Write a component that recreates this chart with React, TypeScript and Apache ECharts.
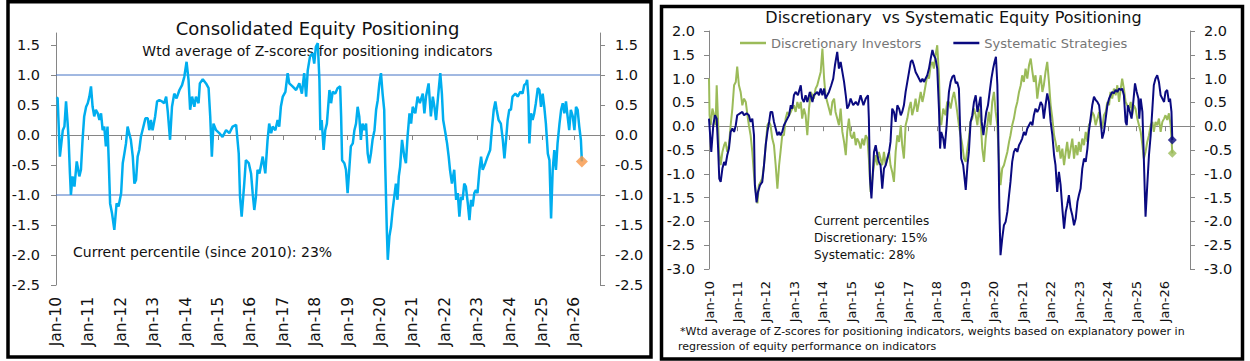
import React, { useEffect, useRef } from "react";
import * as echarts from "echarts";

const BASE_YEAR = 2010;
const FONT = "'DejaVu Sans', sans-serif";

const yearTicks = [2010, 2011, 2012, 2013, 2014, 2015, 2016, 2017, 2018, 2019, 2020, 2021, 2022, 2023, 2024, 2025, 2026];
const leftYTicks = [-2.5, -2, -1.5, -1, -0.5, 0, 0.5, 1, 1.5];
const rightYTicks = [-3, -2.5, -2, -1.5, -1, -0.5, 0, 0.5, 1, 1.5, 2];
const bandLevels = [1, -1];

const leftTitle = "Consolidated Equity Positioning";
const leftSubtitle = "Wtd average of Z-scores for positioning indicators";
const leftNote = "Current percentile (since 2010): 23%";
const rightTitle = "Discretionary  vs Systematic Equity Positioning";
const rightNotes = ["Current percentiles", "Discretionary: 15%", "Systematic: 28%"];
const footnotes = [
  "*Wtd average of Z-scores for positioning indicators, weights based on explanatory power in",
  "regression of equity performance on indicators",
];
const seriesNames = ["Discretionary Investors", "Systematic Strategies"];

// [years since Jan 2010, z-score]
const consolidated: [number, number][] = [
  [0.02, 0.63], [0.05, 0.61], [0.12, -0.36], [0.21, 0.08], [0.26, 0.14], [0.31, 0.56], [0.36, 0.19], [0.39, -0.08], [0.43, -0.64], [0.46, -1.0],
  [0.51, -0.69], [0.57, -0.86], [0.64, -0.44], [0.72, -0.69], [0.77, -0.58], [0.82, -0.08], [0.87, 0.31], [0.93, 0.47], [0.98, 0.53], [1.03, 0.64],
  [1.08, 0.81], [1.13, 0.47], [1.18, 0.31], [1.23, 0.42], [1.29, 0.36], [1.34, 0.25], [1.39, 0.36], [1.44, 0.08], [1.49, 0.14], [1.54, -0.19],
  [1.59, 0.14], [1.63, -0.47], [1.67, -1.14], [1.73, -1.31], [1.8, -1.58], [1.87, -1.14], [1.93, -1.19], [2.01, -0.97], [2.06, -0.47], [2.11, -0.31],
  [2.16, -0.14], [2.21, 0.14], [2.26, 0.03], [2.31, -0.08], [2.37, -0.36], [2.42, -0.81], [2.47, -0.75], [2.52, -0.36], [2.57, -0.25], [2.62, -0.03],
  [2.67, 0.08], [2.76, 0.28], [2.83, 0.28], [2.88, 0.08], [2.93, 0.25], [2.98, 0.08], [3.06, 0.31], [3.12, 0.56], [3.19, 0.58], [3.27, 0.56],
  [3.34, 0.53], [3.4, 0.64], [3.45, 0.39], [3.52, -0.08], [3.58, 0.47], [3.65, 0.69], [3.72, 0.61], [3.81, 0.75], [3.89, 0.83], [3.96, 0.97],
  [4.03, 1.22], [4.09, 0.92], [4.14, 0.42], [4.2, 0.64], [4.27, 0.47], [4.32, 0.64], [4.4, 0.53], [4.44, 0.86], [4.53, 0.93], [4.63, 0.86],
  [4.71, 0.78], [4.76, 0.31], [4.81, -0.36], [4.86, 0.19], [4.94, 0.08], [5.04, 0.03], [5.14, -0.03], [5.25, 0.08], [5.35, 0.03], [5.45, 0.14],
  [5.56, 0.17], [5.64, -0.31], [5.68, -1.03], [5.73, -1.36], [5.81, -0.81], [5.86, -0.42], [5.95, -0.47], [6.02, -0.64], [6.07, -0.97], [6.12, -1.25],
  [6.17, -1.03], [6.22, -0.58], [6.28, -0.64], [6.38, -0.36], [6.46, -0.64], [6.53, -0.08], [6.58, 0.19], [6.64, 0.03], [6.69, 0.14], [6.77, 0.08],
  [6.84, 0.25], [6.89, 0.14], [6.94, 0.47], [7.0, 0.64], [7.08, 0.72], [7.15, 1.03], [7.2, 0.86], [7.3, 0.81], [7.41, 0.75], [7.51, 0.86],
  [7.59, 0.69], [7.66, 1.03], [7.72, 0.64], [7.77, 1.08], [7.84, 1.31], [7.92, 1.36], [7.97, 1.19], [8.02, 1.47], [8.08, 1.53], [8.13, 0.92],
  [8.16, 0.08], [8.2, 0.25], [8.26, -0.25], [8.31, 0.08], [8.36, 0.19], [8.44, 0.75], [8.49, 0.53], [8.54, 0.72], [8.62, 0.69], [8.69, 0.78],
  [8.77, 0.81], [8.8, 0.31], [8.83, -0.42], [8.9, -0.47], [8.95, -0.58], [9.0, -0.97], [9.05, -0.58], [9.1, -0.19], [9.16, -0.14], [9.21, 0.08],
  [9.26, 0.19], [9.31, 0.47], [9.36, 0.31], [9.41, -0.08], [9.46, 0.19], [9.52, 0.08], [9.57, 0.19], [9.62, -0.31], [9.67, -0.47], [9.72, -0.31],
  [9.77, -0.08], [9.83, 0.08], [9.88, 0.42], [9.93, 0.58], [9.98, 0.86], [10.03, 1.03], [10.08, 0.69], [10.13, 0.42], [10.16, -0.47], [10.21, -1.58],
  [10.24, -2.08], [10.29, -1.69], [10.34, -1.53], [10.39, -1.25], [10.44, -1.03], [10.49, -0.81], [10.54, -1.08], [10.58, -0.69], [10.62, -0.53], [10.68, -0.08],
  [10.75, -0.36], [10.8, -0.47], [10.85, -0.03], [10.91, 0.36], [10.96, 0.19], [11.01, 0.47], [11.09, 0.36], [11.16, 0.64], [11.23, 0.53], [11.32, 0.69],
  [11.37, 0.36], [11.42, 0.64], [11.5, 0.86], [11.57, 0.31], [11.63, 0.64], [11.68, 0.47], [11.73, 0.25], [11.81, 0.75], [11.86, 1.03], [11.91, 0.69],
  [11.95, 0.25], [12.02, 0.03], [12.07, -0.14], [12.12, -0.36], [12.16, -0.58], [12.22, -0.81], [12.29, -0.58], [12.35, -1.08], [12.4, -0.97], [12.45, -1.36],
  [12.5, -1.03], [12.55, -1.08], [12.6, -0.81], [12.65, -0.86], [12.71, -1.14], [12.76, -1.42], [12.81, -1.08], [12.86, -1.19], [12.91, -0.97], [12.96, -0.92],
  [13.01, -0.97], [13.07, -0.58], [13.12, -0.36], [13.17, -0.58], [13.25, -0.47], [13.32, -0.36], [13.4, -0.25], [13.45, 0.08], [13.51, 0.42], [13.56, 0.56],
  [13.6, 0.42], [13.66, 0.25], [13.73, 0.19], [13.79, -0.08], [13.84, -0.39], [13.89, -0.08], [13.94, 0.25], [13.99, 0.42], [14.04, 0.42], [14.09, 0.64],
  [14.18, 0.69], [14.25, 0.64], [14.33, 0.72], [14.4, 0.69], [14.45, 0.83], [14.51, 0.86], [14.54, 0.92], [14.58, 0.64], [14.61, -0.14], [14.66, 0.36],
  [14.71, 0.25], [14.76, 0.36], [14.81, 0.53], [14.87, 0.78], [14.92, 0.75], [14.97, 0.47], [15.02, 0.69], [15.07, 0.47], [15.12, 0.19], [15.18, -0.31],
  [15.23, -0.42], [15.28, -1.39], [15.33, -0.58], [15.38, -0.25], [15.43, -0.58], [15.48, -0.14], [15.54, 0.19], [15.59, 0.42], [15.64, 0.53], [15.69, 0.36],
  [15.74, 0.56], [15.79, 0.31], [15.84, 0.08], [15.89, 0.42], [15.95, 0.31], [16.0, 0.08], [16.05, 0.47], [16.1, 0.42], [16.15, 0.14], [16.2, -0.08],
  [16.23, -0.44],
];

const systematic: [number, number][] = [
  [0.0, 0.16], [0.04, -0.19], [0.08, -0.54], [0.15, 0.02], [0.21, 0.23], [0.27, 0.16], [0.32, -0.47], [0.36, -1.1], [0.41, -1.17], [0.47, -0.89],
  [0.53, -0.75], [0.58, -0.82], [0.64, -0.61], [0.7, -0.47], [0.76, -0.12], [0.82, -0.05], [0.88, -0.12], [0.94, 0.02], [0.99, 0.23], [1.09, 0.27],
  [1.17, 0.3], [1.23, 0.23], [1.32, 0.27], [1.4, 0.23], [1.46, 0.09], [1.52, 0.16], [1.58, -0.19], [1.61, -1.24], [1.67, -1.6], [1.72, -1.38],
  [1.79, -1.24], [1.87, -1.17], [1.93, -0.82], [1.99, -0.4], [2.05, -0.12], [2.11, 0.09], [2.16, 0.3], [2.22, 0.3], [2.28, 0.09], [2.34, -0.05],
  [2.4, -0.19], [2.46, -0.12], [2.51, -0.19], [2.57, -0.12], [2.63, 0.02], [2.69, 0.09], [2.75, 0.16], [2.81, 0.23], [2.87, 0.44], [2.92, 0.37],
  [2.98, 0.65], [3.04, 0.72], [3.12, 0.65], [3.22, 0.86], [3.27, 0.58], [3.33, 0.51], [3.39, 0.65], [3.45, 0.51], [3.54, 0.72], [3.63, 0.51],
  [3.68, 0.65], [3.8, 0.72], [3.86, 0.65], [3.92, 0.79], [3.98, 0.65], [4.04, 0.79], [4.09, 0.58], [4.15, 0.65], [4.21, 0.72], [4.29, 0.86],
  [4.36, 1.0], [4.42, 1.28], [4.5, 1.56], [4.56, 1.21], [4.62, 1.35], [4.68, 1.14], [4.74, 0.93], [4.8, 0.65], [4.85, 0.37], [4.91, 0.44],
  [4.97, 0.58], [5.06, 0.44], [5.15, 0.51], [5.23, 0.44], [5.32, 0.65], [5.42, 0.44], [5.5, 0.58], [5.58, 0.65], [5.61, 0.16], [5.65, -1.1],
  [5.7, -1.52], [5.74, -1.1], [5.79, -0.54], [5.85, -0.4], [5.91, -0.61], [5.96, -0.75], [6.02, -0.82], [6.08, -1.31], [6.14, -0.89], [6.2, -0.82],
  [6.26, -0.68], [6.32, -0.54], [6.37, -0.33], [6.43, 0.37], [6.49, 0.3], [6.55, 0.09], [6.61, 0.44], [6.67, 0.37], [6.73, 0.23], [6.78, 0.3],
  [6.84, 0.44], [6.9, 0.72], [6.96, 0.93], [7.02, 1.14], [7.08, 1.35], [7.13, 1.39], [7.19, 1.28], [7.25, 1.14], [7.31, 1.07], [7.43, 0.93],
  [7.49, 1.0], [7.54, 0.93], [7.66, 1.07], [7.72, 1.21], [7.78, 1.42], [7.84, 1.6], [7.89, 1.49], [7.95, 1.42], [8.01, 1.21], [8.07, 0.37],
  [8.11, -0.47], [8.15, -0.12], [8.22, -0.26], [8.27, -0.47], [8.34, 0.02], [8.38, 0.4], [8.42, 0.72], [8.48, 0.93], [8.54, 1.04], [8.6, 1.07],
  [8.66, 0.9], [8.71, 0.93], [8.77, 0.79], [8.81, 0.02], [8.85, -0.68], [8.92, -0.82], [8.97, -1.1], [9.01, -1.34], [9.07, -0.82], [9.12, -0.54],
  [9.18, 0.09], [9.24, 0.23], [9.3, 0.51], [9.36, 0.65], [9.42, 0.3], [9.47, 0.44], [9.53, 0.62], [9.57, 0.09], [9.63, -0.19], [9.67, 0.02],
  [9.73, 0.3], [9.79, 0.44], [9.85, 0.72], [9.91, 1.0], [9.97, 1.21], [10.02, 1.35], [10.07, 1.46], [10.12, 0.86], [10.15, -0.12], [10.19, -1.73],
  [10.23, -2.71], [10.29, -2.36], [10.35, -2.08], [10.41, -2.01], [10.47, -1.8], [10.53, -1.45], [10.58, -1.17], [10.64, -0.75], [10.7, -0.54], [10.76, -0.47],
  [10.82, -0.54], [10.88, -0.4], [10.94, -0.33], [10.99, -0.26], [11.05, -0.12], [11.11, -0.19], [11.17, -0.05], [11.23, 0.02], [11.29, 0.09], [11.35, 0.02],
  [11.4, 0.23], [11.46, 0.37], [11.52, 0.3], [11.58, 0.37], [11.64, 0.51], [11.7, 0.44], [11.75, 0.16], [11.81, 0.44], [11.87, 0.69], [11.93, 0.51],
  [11.99, 0.09], [12.05, -0.19], [12.11, -0.61], [12.16, -0.82], [12.22, -1.38], [12.28, -0.96], [12.34, -1.24], [12.4, -1.73], [12.46, -2.15], [12.52, -1.8],
  [12.57, -1.66], [12.63, -1.45], [12.69, -1.73], [12.75, -1.87], [12.81, -2.08], [12.87, -1.94], [12.93, -1.59], [12.98, -1.45], [13.04, -1.31], [13.1, -0.89],
  [13.16, -0.68], [13.22, -0.75], [13.28, -0.47], [13.33, -0.12], [13.39, 0.16], [13.45, 0.44], [13.51, 0.62], [13.57, 0.55], [13.63, 0.51], [13.69, 0.44],
  [13.74, 0.16], [13.8, -0.26], [13.86, -0.12], [13.92, 0.16], [13.98, 0.44], [14.04, 0.58], [14.09, 0.65], [14.15, 0.72], [14.21, 0.69], [14.27, 0.76],
  [14.33, 0.72], [14.39, 0.79], [14.45, 0.76], [14.5, 0.79], [14.56, 0.65], [14.62, 0.09], [14.66, 0.02], [14.7, 0.44], [14.77, 0.3], [14.83, 0.16],
  [14.89, 0.51], [14.95, 0.9], [15.01, 0.72], [15.07, 0.58], [15.1, 0.16], [15.15, 0.58], [15.21, 0.3], [15.26, -0.68], [15.3, -1.52], [15.32, -1.9],
  [15.38, -1.24], [15.44, -0.61], [15.5, -0.19], [15.56, 0.37], [15.61, 0.86], [15.67, 1.0], [15.73, 1.07], [15.79, 0.93], [15.85, 0.65], [15.91, 0.58],
  [15.97, 0.51], [16.02, 0.72], [16.08, 0.76], [16.14, 0.51], [16.18, 0.58], [16.23, 0.3], [16.26, -0.29],
];

const discretionary: [number, number][] = [
  [0.0, 1.0], [0.02, 0.23], [0.06, 0.02], [0.12, 0.37], [0.18, 0.23], [0.23, 0.02], [0.27, 0.86], [0.32, 0.09], [0.35, -0.54], [0.41, -0.82],
  [0.47, -0.54], [0.53, -0.4], [0.58, -0.33], [0.64, -0.54], [0.7, -0.4], [0.76, 0.02], [0.82, 0.37], [0.88, 0.86], [0.94, 0.93], [0.99, 1.25],
  [1.05, 0.86], [1.11, 0.72], [1.17, 0.44], [1.23, 0.58], [1.29, 0.51], [1.35, 0.23], [1.4, 0.02], [1.46, -0.19], [1.52, -0.54], [1.58, -1.03],
  [1.64, -1.38], [1.7, -1.62], [1.75, -1.24], [1.81, -1.17], [1.87, -1.1], [1.93, -0.82], [1.99, -0.4], [2.05, 0.02], [2.11, 0.09], [2.16, 0.02],
  [2.22, -0.26], [2.28, -0.4], [2.34, -0.82], [2.4, -1.31], [2.46, -0.82], [2.51, -0.54], [2.57, -0.19], [2.63, -0.19], [2.69, 0.16], [2.75, 0.3],
  [2.81, 0.23], [2.87, 0.3], [2.92, 0.37], [2.98, 0.44], [3.04, 0.3], [3.1, 0.51], [3.16, 0.37], [3.22, 0.51], [3.27, 0.16], [3.33, 0.37],
  [3.39, 0.23], [3.45, -0.19], [3.51, 0.37], [3.57, 0.72], [3.63, 0.65], [3.68, 0.58], [3.74, 0.79], [3.8, 0.86], [3.86, 1.0], [3.92, 1.14],
  [3.98, 1.63], [4.04, 1.0], [4.09, 0.65], [4.15, 0.51], [4.21, 0.37], [4.27, 0.23], [4.33, 0.51], [4.39, 0.58], [4.44, 0.3], [4.5, 0.16],
  [4.56, 0.02], [4.62, 0.37], [4.68, -0.12], [4.74, -0.33], [4.8, -0.61], [4.85, -0.12], [4.91, 0.16], [4.97, -0.19], [5.03, -0.26], [5.09, -0.12],
  [5.15, -0.4], [5.2, -0.26], [5.26, -0.33], [5.32, -0.47], [5.38, -0.26], [5.44, -0.4], [5.5, -0.19], [5.56, -0.26], [5.61, -0.68], [5.67, -1.38],
  [5.73, -1.1], [5.79, -0.82], [5.85, -0.61], [5.91, -0.82], [5.96, -0.54], [6.02, -0.68], [6.08, -0.82], [6.14, -0.54], [6.2, -0.82], [6.26, -0.68],
  [6.32, -0.54], [6.37, -0.82], [6.43, -0.96], [6.49, -1.17], [6.55, -0.54], [6.61, -0.19], [6.67, -0.33], [6.73, 0.02], [6.78, -0.4], [6.84, -0.68],
  [6.9, 0.02], [6.96, 0.16], [7.02, 0.37], [7.08, 0.51], [7.13, 0.23], [7.19, 0.37], [7.25, 0.58], [7.31, 0.3], [7.37, 0.51], [7.43, 0.72],
  [7.49, 0.51], [7.54, 0.65], [7.6, 0.86], [7.66, 1.07], [7.72, 1.0], [7.78, 1.28], [7.84, 1.35], [7.89, 1.21], [7.95, 1.49], [8.01, 1.7],
  [8.07, 1.07], [8.11, 0.16], [8.15, 0.02], [8.22, 0.37], [8.3, 0.23], [8.36, 0.51], [8.42, 0.51], [8.48, 0.37], [8.54, 0.58], [8.6, 0.72],
  [8.66, 0.51], [8.71, 0.3], [8.77, 0.02], [8.83, -0.19], [8.89, -0.4], [8.95, -0.68], [9.01, -0.75], [9.07, -0.47], [9.12, -0.26], [9.18, 0.09],
  [9.24, 0.16], [9.3, 0.37], [9.36, 0.23], [9.42, 0.02], [9.47, 0.37], [9.53, 0.16], [9.59, -0.47], [9.65, -0.75], [9.71, -0.26], [9.77, 0.02],
  [9.82, 0.3], [9.88, 0.02], [9.94, 0.51], [10.0, 0.72], [10.06, 0.3], [10.12, 0.02], [10.18, -0.82], [10.23, -1.24], [10.29, -0.89], [10.35, -0.82],
  [10.41, -0.68], [10.47, -0.54], [10.53, -0.33], [10.58, -0.19], [10.64, 0.02], [10.7, 0.16], [10.76, 0.37], [10.82, 0.51], [10.88, 0.72], [10.94, 0.86],
  [10.99, 1.07], [11.05, 0.93], [11.11, 1.21], [11.17, 1.0], [11.23, 1.28], [11.29, 1.42], [11.35, 1.14], [11.4, 0.93], [11.46, 1.07], [11.52, 0.58],
  [11.58, 0.86], [11.64, 1.07], [11.7, 0.72], [11.75, 0.86], [11.81, 1.14], [11.87, 1.35], [11.93, 0.93], [11.99, 0.44], [12.05, 0.16], [12.11, -0.19],
  [12.16, -0.33], [12.22, -0.54], [12.28, -0.4], [12.34, -0.68], [12.4, -0.47], [12.46, -0.82], [12.52, -0.54], [12.57, -0.33], [12.63, -0.68], [12.69, -0.47],
  [12.75, -0.26], [12.81, -0.68], [12.87, -0.4], [12.93, -0.61], [12.98, -0.33], [13.04, -0.54], [13.1, -0.26], [13.16, -0.4], [13.22, -0.12], [13.28, -0.33],
  [13.33, 0.02], [13.39, 0.09], [13.45, 0.3], [13.51, 0.23], [13.57, 0.02], [13.63, 0.16], [13.69, 0.3], [13.74, 0.02], [13.8, -0.05], [13.86, 0.23],
  [13.92, 0.3], [13.98, 0.51], [14.04, 0.44], [14.09, 0.72], [14.15, 0.58], [14.21, 0.79], [14.27, 0.65], [14.33, 0.86], [14.39, 0.51], [14.45, 0.79],
  [14.5, 1.0], [14.56, 0.79], [14.62, 0.51], [14.68, 0.44], [14.74, 0.37], [14.8, 0.51], [14.85, 0.23], [14.91, 0.44], [14.97, 0.37], [15.03, 0.16],
  [15.09, 0.02], [15.15, -0.12], [15.21, -0.4], [15.26, -0.68], [15.32, -0.54], [15.38, -0.33], [15.44, -0.19], [15.5, 0.02], [15.56, 0.09], [15.61, -0.12],
  [15.67, 0.09], [15.73, 0.02], [15.79, 0.16], [15.85, -0.12], [15.91, 0.09], [15.97, 0.16], [16.02, 0.23], [16.08, 0.13], [16.14, 0.27], [16.2, 0.02],
  [16.23, -0.26], [16.26, -0.57],
];

const toPoints = (arr: [number, number][]) => arr.map(([t, v]) => [BASE_YEAR + t, v]);
const lastPoint = (arr: [number, number][]) => toPoints(arr).slice(-1);
const yearLabel = (v: number) => "Jan-" + String(Math.round(v) % 100).padStart(2, "0");

const AXIS_GRAY = "#868686";
const BAND_BLUE = "#4472C4";
const GREEN = "#9BBB59";
const NAVY = "#0A0A80";
const LEFT_MIN_X = 2010;
const LEFT_MAX_X = 2026.79;
const RIGHT_MAX_X = 2026.88;

function labelXAxis(gridIndex: number, max: number, fontSize: number, margin: number) {
  return {
    type: "value", gridIndex, min: 2010, max, interval: 1, position: "bottom",
    axisLine: { show: false, onZero: false }, axisTick: { show: false }, splitLine: { show: false },
    axisLabel: { rotate: 90, margin, fontSize, fontFamily: FONT, color: "#111", formatter: yearLabel, customValues: yearTicks },
  };
}
function zeroXAxis(gridIndex: number, max: number) {
  return {
    type: "value", gridIndex, min: 2010, max, interval: 1, position: "top",
    axisLine: { show: true, onZero: true, lineStyle: { color: AXIS_GRAY, width: 1 } },
    axisTick: { show: true, inside: true, length: 5, lineStyle: { color: AXIS_GRAY }, customValues: yearTicks },
    axisLabel: { show: false }, splitLine: { show: false },
  };
}
function valueYAxis(gridIndex: number, position: string, min: number, max: number, ticks: number[], margin: number) {
  return {
    type: "value", gridIndex, position, min, max, interval: 0.5,
    axisLine: { show: true, onZero: false, lineStyle: { color: AXIS_GRAY, width: 1 } },
    axisTick: { show: true, length: 5, lineStyle: { color: AXIS_GRAY }, customValues: ticks },
    axisLabel: { margin, fontSize: 14.5, fontFamily: FONT, color: "#111", formatter: (v: number) => v.toFixed(1), customValues: ticks },
    splitLine: { show: false },
  };
}
function text(str: string, x: number, y: number, size: number, align: string, color = "#111") {
  return {
    type: "text", x, y, silent: true,
    style: { text: str, fill: color, font: `${size}px ${FONT}`, fontSize: size, fontFamily: FONT, textAlign: align, textVerticalAlign: "middle", align, verticalAlign: "middle" },
  };
}

export default function App() {
  const ref = useRef<HTMLDivElement>(null);
  useEffect(() => {
    if (!ref.current) return;
    const chart = echarts.init(ref.current, undefined, { renderer: "svg" });
    const bandSeries = bandLevels.map((v, i) => ({
      type: "line", name: "band" + i, xAxisIndex: 0, yAxisIndex: 0, silent: true, z: 1,
      data: [[LEFT_MIN_X, v], [LEFT_MAX_X, v]],
      symbol: "none", showSymbol: false,
      lineStyle: { color: BAND_BLUE, width: 1 }, itemStyle: { color: BAND_BLUE },
    }));
    chart.setOption({
      animation: false,
      backgroundColor: "#fff",
      grid: [
        { left: 56, top: 33, width: 544, height: 252 },
        { left: 709, top: 31, width: 481, height: 238 },
      ],
      xAxis: [
        labelXAxis(0, LEFT_MAX_X, 15.5, 12),
        zeroXAxis(0, LEFT_MAX_X),
        labelXAxis(1, RIGHT_MAX_X, 13, 12),
        zeroXAxis(1, RIGHT_MAX_X),
      ],
      yAxis: [
        valueYAxis(0, "left", -2.5, 1.7, leftYTicks, 16),
        valueYAxis(0, "right", -2.5, 1.7, leftYTicks, 15),
        valueYAxis(1, "left", -3, 2, rightYTicks, 14),
        valueYAxis(1, "right", -3, 2, rightYTicks, 14),
      ],
      legend: {
        data: [
          { name: seriesNames[0], icon: "rect", itemStyle: { color: GREEN } },
          { name: seriesNames[1], icon: "rect", itemStyle: { color: NAVY } },
        ],
        left: 735, top: 31, itemWidth: 26, itemHeight: 2.5, itemGap: 32,
        textStyle: { color: "#767676", fontSize: 13, fontFamily: FONT, lineHeight: 14 },
      },
      series: [
        ...bandSeries,
        {
          type: "line", name: "Consolidated", xAxisIndex: 0, yAxisIndex: 0, data: toPoints(consolidated),
          symbol: "none", showSymbol: false, lineStyle: { color: "#00AEEF", width: 2.5 }, z: 3,
        },
        {
          type: "scatter", name: "ConsolidatedLast", xAxisIndex: 0, yAxisIndex: 0, data: lastPoint(consolidated),
          symbol: "diamond", symbolSize: 12, itemStyle: { color: "#F79646" }, z: 4,
        },
        {
          type: "line", name: seriesNames[0], xAxisIndex: 2, yAxisIndex: 2, data: toPoints(discretionary),
          symbol: "none", showSymbol: false, lineStyle: { color: GREEN, width: 2 }, itemStyle: { color: GREEN }, z: 2,
        },
        {
          type: "line", name: seriesNames[1], xAxisIndex: 2, yAxisIndex: 2, data: toPoints(systematic),
          symbol: "none", showSymbol: false, lineStyle: { color: NAVY, width: 2 }, itemStyle: { color: NAVY }, z: 3,
        },
        {
          type: "scatter", name: "DiscLast", xAxisIndex: 2, yAxisIndex: 2, data: lastPoint(discretionary),
          symbol: "diamond", symbolSize: 9, itemStyle: { color: GREEN }, z: 4,
        },
        {
          type: "scatter", name: "SysLast", xAxisIndex: 2, yAxisIndex: 2, data: lastPoint(systematic),
          symbol: "diamond", symbolSize: 9, itemStyle: { color: NAVY }, z: 4,
        },
      ],
      graphic: [
        { type: "rect", shape: { x: 8, y: 1.7, width: 643, height: 355.3 }, style: { fill: "none", stroke: "#000", lineWidth: 3.5 }, silent: true },
        { type: "rect", shape: { x: 661.5, y: 6.5, width: 581, height: 352.5 }, style: { fill: "none", stroke: "#000", lineWidth: 3.5 }, silent: true },
        text(leftTitle, 317.5, 28, 18, "center"),
        text(leftSubtitle, 317.5, 51, 14, "center"),
        text(leftNote, 73, 252, 14, "left"),
        text(rightTitle, 953.5, 17, 16, "center"),
        ...rightNotes.map((s, i) => text(s, 814, 221 + i * 16.8, 12, "left")),
        ...footnotes.map((s, i) => text(s, i === 0 ? 680 : 678, 331 + i * 15.5, 11, "left")),
      ],
    });
    return () => chart.dispose();
  }, []);
  return (
    <div
      ref={ref}
      style={{ position: "absolute", left: 0, top: 0, width: 1250, height: 361, background: "#fff" }}
    />
  );
}
